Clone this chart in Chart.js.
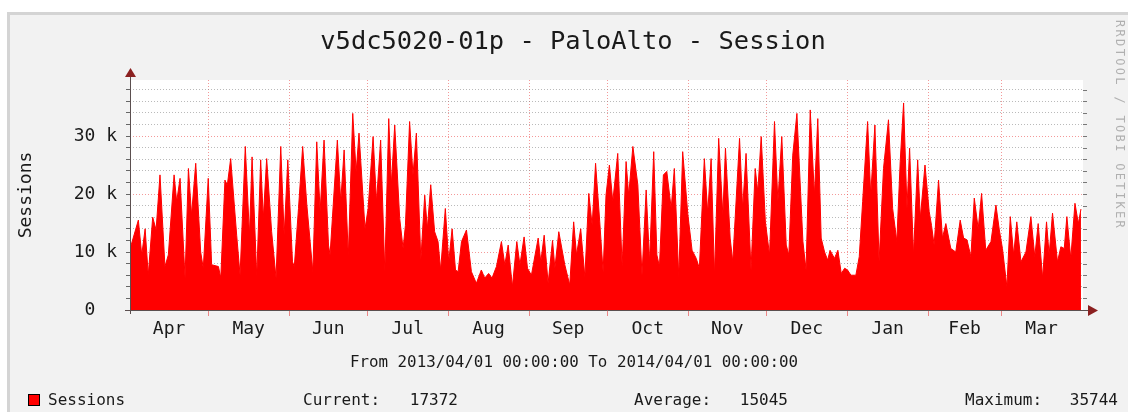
<!DOCTYPE html>
<html>
<head>
<meta charset="utf-8">
<script src="https://cdn.jsdelivr.net/npm/chart.js@4.4.1/dist/chart.umd.min.js"></script>
<style>
  html, body { margin: 0; padding: 0; background: #fff; overflow: hidden; }
  #frame { position: absolute; left: 7px; top: 12px; width: 1200px; height: 500px;
           border: 3px solid #d4d4d4; background: #f2f2f2; }
  #wrap { position: absolute; left: 0; top: 0; width: 1128px; height: 412px; }
</style>
</head>
<body>
<div id="frame"></div>
<div id="wrap"><canvas id="chart" width="1128" height="412"></canvas></div>
<script>
// Sessions (thousands), time in days since 2013/04/01
const dayOffsets = [
  0.0, 3.2, 4.5, 5.8, 7.0, 8.7, 10.0, 11.5, 13.4, 14.7, 16.9, 17.9, 19.2, 21.1, 22.4, 23.6,
  25.2, 27.1, 28.1, 30.0, 31.3, 33.9, 34.8, 36.4, 37.3, 38.6, 40.9, 42.2, 44.2, 45.8, 46.8,
  48.6, 50.1, 51.1, 52.4, 54.3, 56.0, 57.8, 59.1, 60.5, 62.3, 63.0, 64.6, 66.2, 67.8, 70.1,
  71.6, 72.9, 74.4, 76.1, 76.7, 79.5, 80.8, 82.1, 83.7, 85.4, 86.7, 87.8, 90.1,
  91.3, 93.2, 94.5, 96.1, 97.7, 99.2, 100.2, 101.5, 103.4, 104.7, 105.6, 107.2, 108.5, 109.8,
  111.5, 113.0, 114.0, 115.3, 116.8, 118.1, 119.1, 120.9, 122.2, 123.5, 124.8, 125.8, 127.1,
  129.0, 130.9, 132.8, 134.7, 136.0, 137.5, 138.8, 140.5, 142.4, 143.7, 145.0, 146.6, 148.3,
  149.5, 151.1, 152.4, 153.9, 156.5, 157.5, 158.8, 160.3, 162.0, 162.9, 164.4, 166.7, 168.6,
  170.1, 171.2, 172.8, 174.4, 175.9, 177.2, 178.5, 180.1, 181.4,
  182.5, 183.8, 185.1, 187.0, 188.7, 190.2, 191.2, 192.8, 194.7, 196.3, 197.9, 199.2, 200.8,
  202.0, 203.0, 204.5, 205.8, 207.5, 208.7, 210.4, 211.9, 213.9, 215.5, 217.1, 218.3, 220.2,
  221.5, 222.8, 224.1, 225.7, 227.3, 228.3, 230.1, 231.1, 233.7, 234.9, 236.2, 238.1, 239.7,
  240.7, 242.0, 243.6, 245.2, 247.1, 248.4, 249.9, 251.6, 252.6, 254.1, 255.7, 257.1, 258.0,
  259.2, 260.8, 262.4, 263.7, 265.0, 266.3, 267.5, 268.4, 270.1, 271.4, 272.7, 274.0,
  275.1, 276.4, 278.3, 279.6, 280.9, 282.8, 284.0, 285.6, 287.2, 288.9, 290.8, 292.4, 294.0,
  295.3, 296.6, 297.9, 298.9, 300.4, 302.0, 303.0, 304.8, 306.4, 307.3, 308.3, 310.0, 311.5,
  312.8, 314.7, 316.6, 318.3, 319.6, 320.9, 322.4, 323.7, 325.2, 326.5, 328.1, 330.1, 332.0,
  333.3, 334.5, 336.2, 337.5, 338.8, 340.0, 341.6, 343.5, 345.4, 346.9, 348.2, 349.9, 351.4,
  352.4, 353.7, 355.6, 356.9, 358.2, 359.2, 360.7, 362.3, 363.6, 364.6
];
const sessionsK = [
  10.5, 15.5, 9.5, 14.0, 6.0, 16.0, 13.8, 23.3, 7.5, 9.5, 23.3, 18.7, 22.7, 5.5, 24.4, 16.4,
  25.3, 10.0, 7.2, 22.7, 7.8, 7.5, 5.5, 22.4, 21.5, 26.1, 12.9, 6.0, 28.2, 12.9, 26.4,
  5.7, 25.9, 15.8, 26.1, 13.5, 5.5, 28.2, 12.9, 25.9, 8.3, 7.5, 17.5, 28.2, 18.1, 6.6,
  29.0, 17.0, 29.3, 11.2, 9.5, 29.3, 18.7, 27.6, 9.2, 33.9, 23.8, 30.5, 14.0,
  17.5, 29.9, 18.7, 29.3, 6.6, 33.0, 21.6, 31.9, 15.8, 10.6, 14.6, 32.5, 23.3, 30.5,
  8.6, 19.8, 14.0, 21.6, 13.5, 11.8, 6.9, 17.5, 8.3, 14.0, 6.9, 6.6, 11.8,
  13.8, 6.6, 4.6, 6.9, 5.5, 6.3, 5.5, 7.5, 11.8, 7.8, 11.2, 4.0, 11.8,
  7.8, 12.6, 7.2, 6.0, 12.4, 8.3, 12.9, 4.6, 12.0, 7.2, 13.5, 7.8, 4.3,
  15.2, 9.5, 14.0, 5.7, 20.1, 14.6, 25.3, 15.2, 6.5,
  19.8, 25.0, 18.7, 27.0, 7.5, 25.6, 19.8, 28.2, 21.6, 6.0, 20.7, 8.3, 27.3,
  9.5, 7.5, 23.3, 23.9, 17.5, 24.4, 5.7, 27.3, 16.4, 10.3, 8.9, 7.2, 26.1,
  16.7, 26.1, 6.0, 29.6, 16.4, 27.9, 12.4, 8.3, 29.6, 17.5, 27.0, 6.9, 24.4,
  20.4, 29.9, 15.2, 9.5, 32.5, 18.7, 29.9, 11.2, 9.5, 26.7, 33.9, 20.4, 11.8,
  6.9, 34.5, 19.8, 33.0, 12.4, 10.0, 8.6, 10.3, 8.9, 10.3, 6.3, 7.2,
  6.9, 6.0, 6.0, 9.2, 18.7, 32.5, 19.8, 31.9, 8.3, 24.4, 32.8, 17.5, 11.8,
  25.6, 35.7, 17.5, 27.9, 9.5, 25.9, 15.8, 25.0, 17.0, 14.6, 11.2, 22.4, 12.4,
  14.9, 10.6, 10.0, 15.5, 12.4, 12.1, 9.2, 19.3, 14.0, 20.1, 10.3, 11.8, 18.1,
  13.8, 10.6, 4.0, 16.1, 9.5, 15.2, 8.3, 10.0, 16.1, 9.2, 14.9, 5.5, 15.2,
  9.5, 16.7, 8.3, 10.9, 10.6, 16.1, 8.9, 18.4, 14.9, 17.4
];

// Axis setup
const monthStarts = [0, 30, 61, 91, 122, 153, 183, 214, 244, 275, 306, 334, 365];
const monthLabels = ['Apr', 'May', 'Jun', 'Jul', 'Aug', 'Sep', 'Oct', 'Nov', 'Dec', 'Jan', 'Feb', 'Mar'];
const yMax = 39.66;
const yGridValues = [0, 2, 4, 6, 8, 10, 12, 14, 16, 18, 20, 22, 24, 26, 28, 30, 32, 34, 36, 38];
const yLabelText = { 0: '0  ', 10: '10 k', 20: '20 k', 30: '30 k' };

// Texts around the graph
const titleText = 'v5dc5020-01p - PaloAlto - Session';
const periodText = 'From 2013/04/01 00:00:00 To 2014/04/01 00:00:00';
const legendName = 'Sessions';
const statNames = ['Current:', 'Average:', 'Maximum:'];
const statValues = ['17372', '15045', '35744'];
const watermark = 'RRDTOOL / TOBI OETIKER';

const monthMids = monthStarts.slice(0, -1).map((s, i) => (s + monthStarts[i + 1]) / 2);
const MONO = "'DejaVu Sans Mono', monospace";
const majorGrid = 'rgba(235, 70, 70, 0.55)';
const minorGrid = 'rgba(130, 130, 130, 0.55)';

function drawText(ctx, str, x, y, size, color, align, sx) {
    ctx.save();
    ctx.font = size + 'px ' + MONO;
    ctx.fillStyle = color;
    ctx.textAlign = align;
    ctx.textBaseline = 'alphabetic';
    ctx.translate(x, y);
    ctx.scale(sx, 1);
    ctx.fillText(str, 0, 0);
    ctx.restore();
}

const rrdDecor = {
    id: 'rrdDecor',
    beforeDraw(chart) {
        const {ctx, chartArea: a} = chart;
        ctx.save();
        ctx.fillStyle = '#ffffff';
        ctx.fillRect(a.left, a.top, a.right - a.left + 1, a.bottom - a.top);
        ctx.restore();
    },
    afterDraw(chart) {
        const {ctx, chartArea: a} = chart;
        const xs = chart.scales.x;
        const ys = chart.scales.y;
        ctx.save();

        // month tick marks under the axis
        ctx.strokeStyle = 'rgba(235, 90, 90, 0.7)';
        ctx.lineWidth = 1;
        monthStarts.slice(1, -1).forEach(m => {
            const px = Math.round(xs.getPixelForValue(m)) + 0.5;
            ctx.beginPath();
            ctx.moveTo(px, a.bottom + 1);
            ctx.lineTo(px, a.bottom + 6);
            ctx.stroke();
        });

        // small ticks on the right edge
        ctx.strokeStyle = '#777';
        yGridValues.slice(1).forEach(v => {
            const py = Math.round(ys.getPixelForValue(v)) + 0.5;
            ctx.beginPath();
            ctx.moveTo(a.right + 1, py);
            ctx.lineTo(a.right + 5, py);
            ctx.stroke();
        });

        // axes and arrows
        ctx.strokeStyle = '#5b4f4f';
        ctx.beginPath();
        ctx.moveTo(a.left + 0.5, a.bottom + 4);
        ctx.lineTo(a.left + 0.5, a.top - 6);
        ctx.moveTo(a.left - 5, a.bottom + 0.5);
        ctx.lineTo(a.right + 8, a.bottom + 0.5);
        ctx.stroke();
        ctx.fillStyle = '#8b2020';
        ctx.beginPath();
        ctx.moveTo(a.left + 0.5, a.top - 12);
        ctx.lineTo(a.left - 5, a.top - 3);
        ctx.lineTo(a.left + 6, a.top - 3);
        ctx.closePath();
        ctx.fill();
        ctx.beginPath();
        ctx.moveTo(a.right + 16, a.bottom + 0.5);
        ctx.lineTo(a.right + 6, a.bottom - 5);
        ctx.lineTo(a.right + 6, a.bottom + 6);
        ctx.closePath();
        ctx.fill();

        // title and period line
        drawText(ctx, titleText, 573, 49, 24, '#1a1a1a', 'center', 1.06);
        drawText(ctx, periodText, 574, 367, 16, '#1a1a1a', 'center', 0.99);

        // legend row
        ctx.fillStyle = '#ff0000';
        ctx.fillRect(28, 394, 11, 11);
        ctx.strokeStyle = '#000';
        ctx.strokeRect(28.5, 394.5, 11, 11);
        drawText(ctx, legendName, 48, 405, 16, '#1a1a1a', 'left', 1.0);
        const nameX = [303, 634, 965];
        const valueX = [458, 788, 1118];
        statNames.forEach((n, i) => {
            drawText(ctx, n, nameX[i], 405, 16, '#1a1a1a', 'left', 1.0);
            drawText(ctx, statValues[i], valueX[i], 405, 16, '#1a1a1a', 'right', 1.0);
        });

        // vertical watermark on the right
        ctx.translate(1119, 20);
        ctx.rotate(Math.PI / 2);
        ctx.font = '12px ' + MONO;
        ctx.fillStyle = '#b0b0b0';
        ctx.textBaseline = 'middle';
        ctx.textAlign = 'left';
        [...watermark].forEach((ch, i) => ctx.fillText(ch, i * 9.55, 0));
        ctx.restore();
    }
};

const ctx = document.getElementById('chart').getContext('2d');
new Chart(ctx, {
    type: 'line',
    data: {
        datasets: [{
            label: legendName,
            data: dayOffsets.map((d, i) => ({x: d, y: sessionsK[i]})),
            fill: 'origin',
            backgroundColor: '#ff0000',
            borderColor: '#ff0000',
            borderWidth: 1,
            pointRadius: 0,
            tension: 0
        }]
    },
    options: {
        responsive: false,
        animation: false,
        layout: {padding: {left: 0, top: 80, right: 46, bottom: 0}},
        plugins: {legend: {display: false}, tooltip: {enabled: false}},
        scales: {
            x: {
                type: 'linear', position: 'bottom', min: 0, max: 365,
                afterFit: s => { s.height = 102; },
                afterBuildTicks: s => { s.ticks = monthMids.map(v => ({value: v})); },
                ticks: {
                    callback: (v, i) => monthLabels[i],
                    font: {family: MONO, size: 18}, color: '#1a1a1a',
                    padding: 9, maxRotation: 0, autoSkip: false
                },
                grid: {display: false, drawTicks: false},
                border: {display: false}
            },
            xg: {
                type: 'linear', position: 'top', min: 0, max: 365, z: 1,
                afterFit: s => { s.height = 0; },
                afterBuildTicks: s => { s.ticks = monthStarts.slice(1, -1).map(v => ({value: v})); },
                ticks: {display: false},
                grid: {color: majorGrid, drawTicks: false},
                border: {display: false, dash: [1, 2]}
            },
            y: {
                min: 0, max: yMax, z: 1,
                afterFit: s => { s.width = 130; },
                afterBuildTicks: s => { s.ticks = yGridValues.map(v => ({value: v})); },
                ticks: {
                    callback: v => yLabelText[v] !== undefined ? yLabelText[v] : '',
                    font: {family: MONO, size: 18}, color: '#1a1a1a',
                    padding: 9, autoSkip: false
                },
                grid: {
                    color: c => (c.tick && c.tick.value % 10 === 0) ? majorGrid : minorGrid,
                    tickLength: 4, tickColor: '#666', tickBorderDash: []
                },
                border: {display: false, dash: [1, 2]},
                title: {
                    display: true, text: legendName,
                    font: {family: MONO, size: 18}, color: '#1a1a1a',
                    padding: {top: 16, bottom: 0}
                }
            }
        }
    },
    plugins: [rrdDecor]
});
</script>
</body>
</html>
